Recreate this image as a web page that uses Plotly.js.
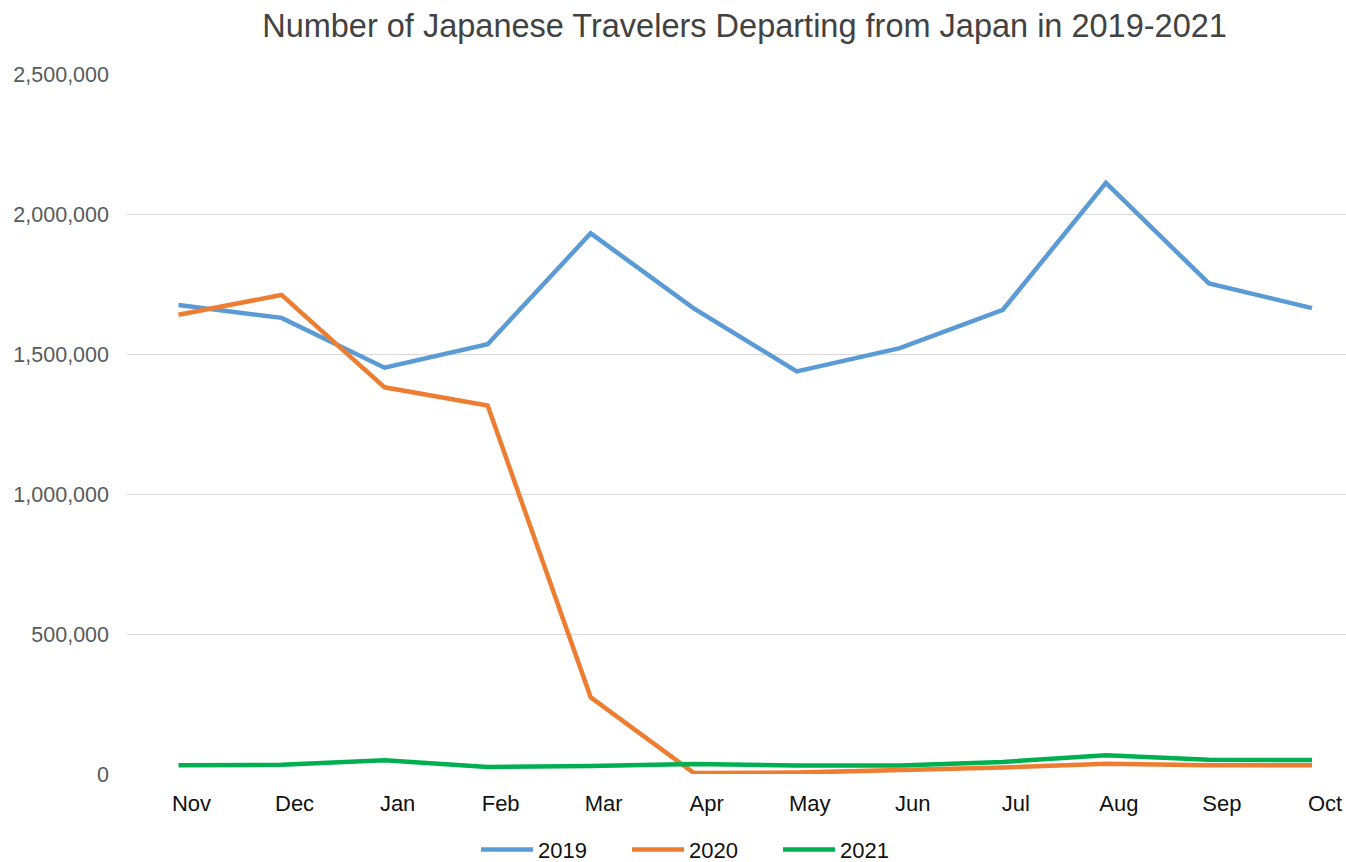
<!DOCTYPE html>
<html>
<head>
<meta charset="utf-8">
<script src="https://cdn.plot.ly/plotly-3.0.1.min.js"></script>
<style>html,body{margin:0;padding:0;background:#fff;}#chart{width:1346px;height:862px;}</style>
</head>
<body>
<div id="chart"></div>
<script>
const months = ["Nov","Dec","Jan","Feb","Mar","Apr","May","Jun","Jul","Aug","Sep","Oct"];
const y2019 = [1675000,1629000,1451000,1535000,1931000,1663000,1438000,1521000,1658000,2111000,1752000,1664000];
const y2020 = [1640000,1711000,1381000,1316000,274000,3900,5000,14000,23000,37000,31000,31000];
const y2021 = [31000,33000,49000,25000,29000,36000,30000,30000,43000,67000,51000,50000];
const seriesNames = ["2019","2020","2021"];
const colors = ["#5B9BD5","#ED7D31","#00B050"];

const traces = [y2019,y2020,y2021].map((ys,i)=>({
  type:'scatter', mode:'lines', x:months, y:ys, name:seriesNames[i],
  line:{color:colors[i], width:4.5}
}));

const layout = {
  width:1346, height:862,
  margin:{l:127, r:0, t:74, b:88, autoexpand:false},
  paper_bgcolor:'#fff', plot_bgcolor:'#fff',
  font:{family:'Liberation Sans, Arial, sans-serif'},
  title:{text:'Number of Japanese Travelers Departing from Japan in 2019-2021',
         font:{size:32.5, color:'#424242'}, x:0.5066, xref:'paper', xanchor:'center', y:0.97, yref:'container', yanchor:'middle'},
  xaxis:{type:'category', range:[-0.5,11.33], showgrid:false, zeroline:false, showline:false, automargin:false,
         ticks:'', tickfont:{size:22, color:'#111'}, ticklabelshift:13, ticklabelstandoff:14, fixedrange:true},
  yaxis:{range:[0,2500000], tickvals:[0,500000,1000000,1500000,2000000,2500000], tickformat:',d', automargin:false,
         showgrid:true, gridcolor:'#d9d9d9', gridwidth:1, zeroline:false, showline:false,
         ticks:'', tickfont:{size:21.5, color:'#595959'}, ticklabelstandoff:17},
  showlegend:true,
  legend:{orientation:'h', x:0.2863, xanchor:'left', y:-0.108, yanchor:'middle',
          font:{size:22, color:'#111'}, itemwidth:52, entrywidth:84, entrywidthmode:'pixels', traceorder:'normal'}
};
Plotly.newPlot('chart', traces, layout, {displayModeBar:false, staticPlot:true});
</script>
</body>
</html>
